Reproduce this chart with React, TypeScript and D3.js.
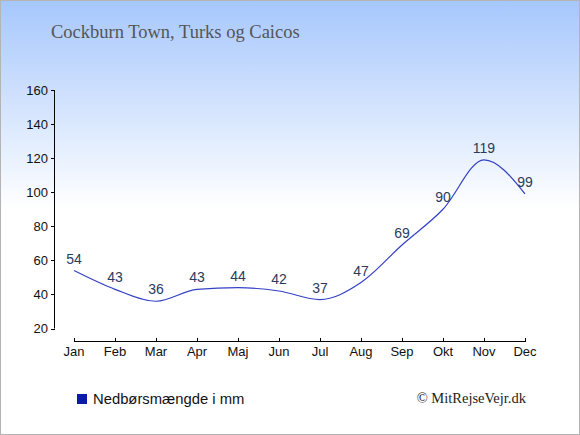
import * as d3 from "d3";

const months = ["Jan", "Feb", "Mar", "Apr", "Maj", "Jun", "Jul", "Aug", "Sep", "Okt", "Nov", "Dec"];
const rainfall = [54, 43, 36, 43, 44, 42, 37, 47, 69, 90, 119, 99];
const yTicks = [20, 40, 60, 80, 100, 120, 140, 160];

const W = 580;
const H = 435;

export default function App() {
  const x = d3.scalePoint<string>().domain(months).range([74, 525]);
  const y = d3.scaleLinear().domain([20, 160]).range([328.5, 90]);

  const line = d3
    .line<number>()
    .x((_, i) => x(months[i])!)
    .y((d) => y(d))
    .curve(d3.curveMonotoneX);

  return (
    <svg
      width={W}
      height={H}
      style={{ position: "absolute", left: 0, top: 0, display: "block" }}
    >
      <defs>
        <linearGradient id="bg" x1="0" y1="0" x2="0" y2="1">
          <stop offset="0%" stopColor="#a6c7fc" />
          <stop offset="48%" stopColor="#ffffff" />
          <stop offset="100%" stopColor="#ffffff" />
        </linearGradient>
      </defs>
      <rect x={0.5} y={0.5} width={W - 1} height={H - 1} fill="url(#bg)" stroke="#b4b4b4" />

      <text x={51} y={38} fontFamily="'Liberation Serif', serif" fontSize={18.5} fill="#555">
        Cockburn Town, Turks og Caicos
      </text>

      {/* y axis */}
      <line x1={54.5} x2={54.5} y1={y(160)} y2={y(20)} stroke="#000" />
      {yTicks.map((t) => (
        <g key={t}>
          <line x1={51} x2={55} y1={Math.round(y(t)) + 0.5} y2={Math.round(y(t)) + 0.5} stroke="#000" />
          <text
            x={48}
            y={y(t) + 4.5}
            textAnchor="end"
            fontFamily="Arial, 'Liberation Sans', sans-serif"
            fontSize={13}
            fill="#111"
          >
            {t}
          </text>
        </g>
      ))}

      {/* x axis */}
      <line x1={x("Jan")} x2={x("Dec")} y1={341.5} y2={341.5} stroke="#000" />
      {months.map((m) => (
        <g key={m}>
          <line x1={x(m)! + 0.5} x2={x(m)! + 0.5} y1={338} y2={342} stroke="#000" />
          <text
            x={x(m)}
            y={356}
            textAnchor="middle"
            fontFamily="Arial, 'Liberation Sans', sans-serif"
            fontSize={13}
            fill="#111"
          >
            {m}
          </text>
        </g>
      ))}

      <path d={line(rainfall)!} fill="none" stroke="#3341c4" strokeWidth={1.2} />

      {rainfall.map((v, i) => (
        <text
          key={i}
          x={x(months[i])}
          y={y(v) - 7}
          textAnchor="middle"
          fontFamily="Arial, 'Liberation Sans', sans-serif"
          fontSize={14}
          fill="#2b3b5c"
        >
          {v}
        </text>
      ))}

      {/* legend */}
      <rect x={77} y={394} width={10} height={10} fill="#0a1aaa" />
      <text x={93} y={404} fontFamily="Arial, 'Liberation Sans', sans-serif" fontSize={14.8} fill="#111">
        Nedbørsmængde i mm
      </text>
      <text x={526} y={403} textAnchor="end" fontFamily="'Liberation Serif', serif" fontSize={14.5} fill="#222">
        © MitRejseVejr.dk
      </text>
    </svg>
  );
}
